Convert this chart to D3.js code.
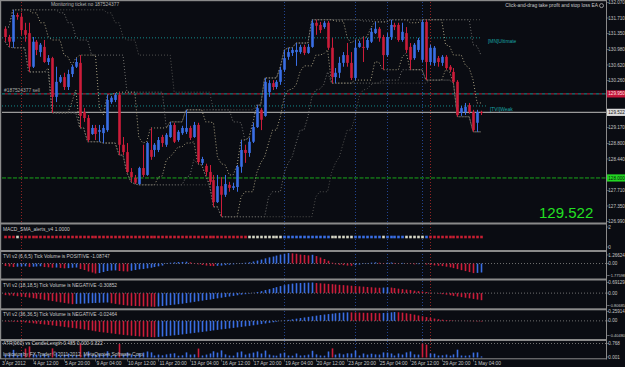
<!DOCTYPE html>
<html>
<head>
<meta charset="utf-8">
<script src="https://cdnjs.cloudflare.com/ajax/libs/d3/7.8.5/d3.min.js"></script>
<style>
  body { margin: 0; background: #0a0c12; }
  svg { display: block; }
  text { font-family: "Liberation Sans", Arial, sans-serif; }
</style>
</head>
<body>
<div id="wrapper"></div>
<script>
// H4 candles, 3 Apr - 1 May 2012
const opens = [
  131.46,131.27,131.16,131.78,131.74,131.43,131.36,130.58,131.16,130.92,
  131.04,130.69,130.78,129.88,130.23,130.34,130.11,130.41,130.58,130.67,
  129.53,129.39,129.02,129.16,129.07,129.04,129.11,129.76,129.81,129.93,
  128.77,128.60,128.14,128.00,127.86,128.23,128.07,128.65,128.65,128.65,
  128.95,128.77,128.95,129.23,128.88,129.04,129.07,129.16,128.95,129.23,
  128.35,128.28,128.14,127.95,127.44,127.81,127.61,127.84,127.77,127.79,
  128.26,128.65,128.58,128.84,129.18,129.58,129.44,129.99,130.20,130.11,
  130.23,130.51,130.81,130.90,130.92,130.92,131.04,130.90,131.04,131.60,
  131.55,131.50,131.60,131.02,130.34,130.44,130.67,130.85,130.67,130.32,
  131.04,131.04,131.02,131.16,131.36,131.46,131.27,130.85,131.27,131.55,
  131.55,131.20,131.36,131.04,130.78,130.97,130.74,131.62,130.69,130.67,
  130.78,130.67,130.81,130.58,130.46,130.23,129.51,129.53,129.69,129.53,
  129.28,129.53
]
const highs = [
  131.50,131.32,131.90,131.83,131.83,131.60,131.60,131.27,131.20,131.13,
  131.20,130.85,130.81,130.58,130.39,130.44,130.51,130.62,130.78,130.85,
  129.62,129.46,129.23,129.23,129.23,129.23,129.93,129.90,129.97,129.99,
  128.95,128.81,128.23,128.07,128.26,128.77,128.84,129.16,128.81,128.95,
  129.00,129.04,129.30,129.28,129.11,129.21,129.58,129.21,129.30,129.28,
  128.49,128.33,128.30,128.07,128.07,128.02,128.07,127.91,127.89,128.30,
  128.88,128.77,128.93,129.28,129.69,129.62,130.32,130.27,130.27,130.27,
  130.58,130.97,131.02,131.02,131.13,131.09,131.09,131.11,131.67,131.67,
  131.62,131.64,131.64,131.25,130.55,130.81,130.92,131.13,130.92,131.20,
  131.18,131.27,131.25,131.48,131.62,131.50,131.32,131.36,131.67,131.60,
  131.60,131.60,131.50,131.13,131.13,131.25,131.67,131.67,131.09,131.06,
  130.83,130.85,130.85,130.62,130.55,130.27,129.67,129.74,129.74,129.58,
  129.58,129.56
]
const lows = [
  131.16,131.04,131.02,131.67,131.32,131.16,130.46,130.55,130.85,130.81,
  130.67,130.62,129.51,129.76,130.20,130.04,130.04,130.34,130.55,129.16,
  129.30,128.84,129.00,128.88,128.84,128.81,129.07,129.72,129.76,128.53,
  128.53,128.12,127.91,127.86,127.84,128.02,128.05,128.42,128.49,128.60,
  128.72,128.72,128.93,128.81,128.84,129.00,129.02,128.88,128.93,128.33,
  128.30,128.05,127.84,127.33,127.42,127.10,127.56,127.68,127.72,127.68,
  128.12,128.35,128.49,128.81,129.16,129.11,129.42,129.88,130.04,130.06,
  130.16,130.46,130.74,130.83,130.60,130.88,130.85,130.88,131.02,131.32,
  131.36,131.46,130.97,130.20,130.20,130.32,130.58,130.58,130.27,130.27,
  131.02,130.69,130.97,131.13,131.34,131.16,130.51,130.81,131.20,131.43,
  131.16,131.16,130.90,130.51,130.74,130.92,130.69,130.27,130.62,130.60,
  130.58,130.60,130.51,130.46,130.20,129.42,129.44,129.46,129.49,129.07,
  129.07,129.46
]
const closes = [
  131.27,131.16,131.78,131.74,131.43,131.32,130.58,131.16,130.97,131.09,
  130.69,130.78,129.88,130.23,130.34,130.11,130.41,130.58,130.69,129.44,
  129.39,128.88,129.16,129.02,129.11,129.16,129.81,129.86,129.93,128.77,
  128.60,128.14,128.02,127.89,128.23,128.07,128.81,128.49,128.77,128.88,
  128.81,129.00,129.23,128.84,129.07,129.16,129.16,128.93,129.23,128.37,
  128.44,128.14,127.91,127.44,127.81,127.61,127.86,127.77,127.81,128.26,
  128.65,128.58,128.84,129.18,129.62,129.35,130.23,130.20,130.11,130.23,
  130.51,130.78,130.92,130.97,130.97,131.04,130.90,131.04,131.60,131.53,
  131.43,131.60,131.02,130.34,130.44,130.67,130.85,130.67,130.32,131.02,
  131.13,131.02,131.20,131.39,131.46,131.25,130.85,131.27,131.55,131.50,
  131.20,131.39,130.97,130.74,131.09,131.20,131.62,130.69,131.02,131.02,
  130.69,130.81,130.55,130.51,130.23,129.46,129.62,129.65,129.53,129.11,
  129.53,129.52
]

// MACD_SMA_alerts state per bar: -1 sell, 0 flat, 1 buy
const macdState = [
  -1,-1,-1,0,-1,-1,-1,-1,-1,-1,-1,-1,-1,-1,-1,-1,-1,-1,-1,-1,
  -1,-1,-1,-1,-1,-1,-1,-1,-1,-1,-1,-1,-1,-1,-1,-1,-1,-1,-1,-1,
  -1,-1,-1,-1,-1,-1,-1,-1,-1,-1,-1,-1,-1,-1,-1,-1,-1,-1,-1,-1,
  -1,-1,0,0,0,0,0,0,0,0,0,1,1,1,1,1,1,1,1,1,
  1,1,1,0,0,0,0,0,0,1,1,1,1,1,1,1,0,1,1,1,
  1,1,0,0,0,0,0,1,-1,-1,-1,-1,-1,-1,-1,-1,-1,-1,-1,-1,
  -1,-1
]

// TVI v2 (6,6,5)
const tvi1 = [
  -0.37,-0.44,-0.52,-0.47,-0.44,-0.41,-0.50,-0.47,-0.44,-0.41,
  -0.52,-0.56,-0.62,-0.59,-0.65,-0.71,-0.68,-0.62,-0.59,-0.81,
  -0.96,-1.18,-1.33,-1.48,-1.41,-1.26,-1.11,-1.04,-1.01,-1.11,
  -1.15,-1.18,-1.07,-0.96,-0.86,-0.81,-0.71,-0.62,-0.52,-0.41,
  -0.30,-0.07,0.12,0.18,0.22,0.24,0.27,0.18,0.07,-0.12,
  -0.22,-0.30,-0.36,-0.38,-0.34,-0.30,-0.24,-0.18,-0.12,-0.03,
  0.06,0.12,0.18,0.30,0.44,0.59,0.77,0.92,1.04,1.18,
  1.33,1.45,1.55,1.51,1.45,1.33,1.27,1.21,1.30,1.11,
  0.89,0.67,0.41,0.12,-0.12,-0.18,-0.24,-0.30,-0.33,-0.24,
  -0.15,-0.06,0.06,0.13,0.18,0.12,0.06,0.12,0.15,0.09,
  0.04,0.09,0.03,-0.06,-0.12,-0.09,-0.04,-0.15,-0.21,-0.27,
  -0.33,-0.38,-0.47,-0.56,-0.68,-0.83,-0.98,-1.12,-1.27,-1.42,
  -1.39,-1.33
]
// TVI v2 (18,18,5)
const tvi2 = [
  -0.13,-0.15,-0.17,-0.20,-0.23,-0.26,-0.29,-0.33,-0.36,-0.40,
  -0.44,-0.48,-0.52,-0.56,-0.60,-0.64,-0.68,-0.72,-0.70,-0.69,
  -0.68,-0.66,-0.65,-0.64,-0.63,-0.62,-0.61,-0.66,-0.70,-0.74,
  -0.78,-0.81,-0.83,-0.84,-0.85,-0.86,-0.87,-0.88,-0.89,-0.87,
  -0.84,-0.81,-0.78,-0.75,-0.72,-0.69,-0.65,-0.61,-0.57,-0.53,
  -0.49,-0.45,-0.42,-0.38,-0.34,-0.30,-0.26,-0.22,-0.18,-0.14,
  -0.10,-0.07,-0.03,0.02,0.07,0.13,0.20,0.26,0.33,0.39,
  0.46,0.52,0.58,0.62,0.65,0.66,0.67,0.68,0.69,0.66,
  0.64,0.62,0.60,0.58,0.56,0.54,0.52,0.50,0.48,0.46,
  0.44,0.42,0.40,0.38,0.36,0.35,0.36,0.38,0.36,0.33,
  0.29,0.26,0.23,0.20,0.16,0.13,0.10,0.07,0.03,0.00,
  -0.03,-0.07,-0.10,-0.14,-0.18,-0.22,-0.26,-0.30,-0.34,-0.38,
  -0.42,-0.46
]
// TVI v2 (36,36,5)
const tvi3 = [
  -0.014,-0.019,-0.022,-0.028,-0.036,-0.044,-0.055,-0.066,-0.078,-0.089,
  -0.100,-0.111,-0.125,-0.139,-0.152,-0.166,-0.180,-0.194,-0.208,-0.222,
  -0.238,-0.255,-0.271,-0.288,-0.305,-0.319,-0.332,-0.346,-0.360,-0.374,
  -0.388,-0.399,-0.410,-0.421,-0.429,-0.438,-0.443,-0.449,-0.452,-0.443,
  -0.432,-0.421,-0.410,-0.399,-0.388,-0.374,-0.360,-0.346,-0.332,-0.319,
  -0.305,-0.291,-0.277,-0.263,-0.249,-0.235,-0.222,-0.208,-0.194,-0.180,
  -0.166,-0.152,-0.139,-0.122,-0.105,-0.089,-0.072,-0.055,-0.039,-0.022,
  -0.006,0.011,0.028,0.044,0.061,0.078,0.094,0.111,0.127,0.144,
  0.161,0.175,0.188,0.199,0.211,0.222,0.230,0.235,0.233,0.230,
  0.227,0.224,0.222,0.219,0.216,0.213,0.219,0.227,0.235,0.244,
  0.238,0.227,0.211,0.194,0.172,0.150,0.127,0.105,0.083,0.064,
  0.047,0.033,0.022,0.014,0.008,0.003,-0.003,-0.006,-0.008,-0.011,
  -0.014,-0.017
]
// ATR(960) vs CandleLength
const atrValues = [
  0.17,0.22,0.42,0.11,0.23,0.49,0.61,0.17,0.16,0.12,
  0.21,0.11,0.50,0.27,0.10,0.16,0.22,0.12,0.11,0.76,
  0.17,0.33,0.11,0.16,0.22,0.17,0.34,0.10,0.12,0.74,
  0.16,0.28,0.17,0.11,0.22,0.27,0.33,0.28,0.11,0.16,
  0.12,0.17,0.21,0.23,0.10,0.12,0.28,0.16,0.17,0.49,
  0.11,0.16,0.22,0.34,0.27,0.39,0.17,0.11,0.10,0.28,
  0.33,0.16,0.22,0.27,0.33,0.22,0.38,0.16,0.11,0.10,
  0.22,0.27,0.11,0.10,0.22,0.11,0.12,0.16,0.37,0.17,
  0.11,0.10,0.33,0.50,0.16,0.22,0.17,0.23,0.22,0.38,
  0.11,0.22,0.16,0.21,0.17,0.16,0.28,0.27,0.22,0.11,
  0.22,0.16,0.28,0.33,0.17,0.16,0.76,0.71,0.22,0.21,
  0.11,0.12,0.16,0.10,0.17,0.43,0.11,0.10,0.12,0.27,
  0.28,0.06
]

const priceTicks = [132.07, 131.71, 131.35, 130.98, 130.62, 130.26, 129.17, 128.80, 128.44, 127.71, 127.35, 126.99]
const timeLabels = ["3 Apr 2012", "4 Apr 12:00", "5 Apr 20:00", "9 Apr 04:00", "10 Apr 12:00", "11 Apr 20:00",
  "13 Apr 04:00", "16 Apr 12:00", "17 Apr 20:00", "19 Apr 04:00", "20 Apr 12:00", "23 Apr 20:00",
  "25 Apr 04:00", "26 Apr 12:00", "29 Apr 20:00", "1 May 04:00"]
const timeLabelBars = [0, 7, 15, 23, 31, 39, 47, 55, 63, 71, 79, 87, 95, 103, 111, 119]
const blueMarkerBars = [71, 89, 97, 106]
const redMarkerBars = [4, 108]

const ultimateLevel = 131.25
const weakLevel = 129.67
const orderPrice = 129.95
const bidPrice = 129.522
const targetPrice = 128.00

function drawChart() {
    const width = 625
    const height = 367
    const plotRight = 606
    const bg = "#0a0c12"
    const upColor = "#3a6ee4"
    const downColor = "#cc1c3a"
    const labelColor = "#c4c4c4"
    const fontSize = 4.9
    const axisFont = 4.6

    const svg = d3.select("#wrapper")
        .append("svg")
        .attr("width", width)
        .attr("height", height)

    svg.append("rect").attr("width", width).attr("height", height).attr("fill", bg)

    const n = opens.length
    const bars = d3.range(n)
    const xScale = d3.scaleLinear().domain([0, n - 1]).range([5, 481])
    const yPrice = d3.scaleLinear().domain([126.99, 132.07]).range([221.5, 2.5])
    const yMacd = d3.scaleLinear().domain([0, 2]).range([247, 227])
    const yTvi1 = d3.scaleLinear().domain([-1.77598, 1.26624]).range([275.5, 255])
    const yTvi2 = d3.scaleLinear().domain([-0.80685, 0.69129]).range([305.5, 282.5])
    const yTvi3 = d3.scaleLinear().domain([-0.4048, 0.25914]).range([335.5, 311.5])
    const yAtr = d3.scaleLinear().domain([0, 0.768]).range([357.5, 343.5])

    // clip regions for each pane
    const defs = svg.append("defs")
    const addClip = (id, y0, y1) => defs.append("clipPath").attr("id", id)
        .append("rect").attr("x", 1.5).attr("y", y0)
        .attr("width", plotRight - 1.5).attr("height", y1 - y0)
    addClip("c-main", 1.5, 222.5)
    addClip("c-macd", 224.5, 250)
    addClip("c-t1", 252, 278.5)
    addClip("c-t2", 280.5, 308.3)
    addClip("c-t3", 310.3, 339)
    addClip("c-atr", 341, 358.5)

    // vertical marker lines through all panes
    const markers = svg.append("g")
    markers.selectAll(".vb").data(blueMarkerBars).join("line")
        .attr("x1", d => Math.round(xScale(d)) + 0.5).attr("x2", d => Math.round(xScale(d)) + 0.5)
        .attr("y1", 2).attr("y2", 358)
        .attr("stroke", "#22448f").attr("stroke-dasharray", "1,2")
    markers.selectAll(".vr").data(redMarkerBars).join("line")
        .attr("x1", d => Math.round(xScale(d)) + 0.5).attr("x2", d => Math.round(xScale(d)) + 0.5)
        .attr("y1", 2).attr("y2", 358)
        .attr("stroke", "#8f2424").attr("stroke-dasharray", "1,2")

    // ---------- main pane ----------
    const main = svg.append("g").attr("clip-path", "url(#c-main)")

    const hLine = (price, x1, x2, color, dash, w) => main.append("line")
        .attr("x1", x1).attr("x2", x2)
        .attr("y1", yPrice(price)).attr("y2", yPrice(price))
        .attr("stroke", color).attr("stroke-width", w || 1)
        .attr("stroke-dasharray", dash || null)

    hLine(ultimateLevel, 2, 482, "#138c8c", "1,2")
    hLine(weakLevel, 2, 488, "#138c8c", "1,2")
    hLine(orderPrice, 2, plotRight, "#1a9a9a", "3,3")
    hLine(orderPrice, 2, plotRight, "#c4203a", "3,3").attr("stroke-dashoffset", 3)
    hLine(targetPrice, 2, plotRight, "#1aa81a", "4,1.5")
    hLine(bidPrice, 2, plotRight, "#9a9a9a", null, 1.2)

    // price channels (highest high / lowest low over N bars)
    const channelSpecs = [
        { period: 5, color: "#a89f80" },
        { period: 12, color: "#6e6e6c" },
        { period: 24, color: "#525250" },
    ]
    const channelLine = d3.line().x((d, i) => xScale(i)).y(d => yPrice(d))
    channelSpecs.forEach(spec => {
        const upper = bars.map(i => d3.max(highs.slice(Math.max(0, i - spec.period + 1), i + 1)))
        const lower = bars.map(i => d3.min(lows.slice(Math.max(0, i - spec.period + 1), i + 1)))
        ;[upper, lower].forEach(series => {
            main.append("path")
                .attr("d", channelLine(series))
                .attr("fill", "none")
                .attr("stroke", spec.color)
                .attr("stroke-width", 1)
                .attr("stroke-dasharray", "1,2")
        })
    })

    // candles
    const candleColor = i => closes[i] >= opens[i] ? upColor : downColor
    main.selectAll(".wick").data(bars).join("line")
        .attr("x1", i => Math.round(xScale(i)) + 0.5)
        .attr("x2", i => Math.round(xScale(i)) + 0.5)
        .attr("y1", i => yPrice(highs[i]))
        .attr("y2", i => yPrice(lows[i]))
        .attr("stroke", candleColor)
    main.selectAll(".body").data(bars).join("rect")
        .attr("x", i => Math.round(xScale(i)) - 0.8)
        .attr("width", 2.6)
        .attr("y", i => yPrice(Math.max(opens[i], closes[i])))
        .attr("height", i => Math.max(1, Math.abs(yPrice(opens[i]) - yPrice(closes[i]))))
        .attr("fill", candleColor)

    // texts on main pane
    svg.append("text").attr("x", 85).attr("y", 6).attr("text-anchor", "middle")
        .attr("font-size", fontSize).attr("fill", "#b4b4b4")
        .text("Monitoring ticket no 187524377")
    svg.append("text").attr("x", 598).attr("y", 7.2).attr("text-anchor", "end")
        .attr("font-size", fontSize).attr("fill", "#c8c8c8")
        .text("Click-and-drag take profit and stop loss EA")
    svg.append("circle").attr("cx", 601.5).attr("cy", 5.6).attr("r", 2)
        .attr("fill", "none").attr("stroke", "#c8c8c8").attr("stroke-width", 0.7)
    svg.append("text").attr("x", 4).attr("y", yPrice(orderPrice) - 1.5)
        .attr("font-size", fontSize).attr("fill", "#a8a8a8").text("#187524377 sell")
    svg.append("text").attr("x", 488).attr("y", yPrice(ultimateLevel) + 5.5)
        .attr("font-size", fontSize).attr("fill", "#19a6a6").text("[MN]Ultimate")
    svg.append("text").attr("x", 490).attr("y", yPrice(weakLevel) + 5)
        .attr("font-size", fontSize).attr("fill", "#19a6a6").text("[TVI]Weak")
    svg.append("text").attr("x", 539).attr("y", 217.5)
        .attr("font-size", 15).attr("fill", "#22e022").text(d3.format(".3f")(bidPrice))

    // ---------- MACD dots ----------
    const macdColors = { "-1": "#c81e32", "0": "#d6d6c6", "1": "#3a6ee4" }
    svg.append("g").attr("clip-path", "url(#c-macd)")
        .selectAll("rect").data(bars).join("rect")
        .attr("x", i => Math.round(xScale(i)) - 0.8)
        .attr("y", yMacd(1) - 1.3)
        .attr("width", 2.6).attr("height", 2.6)
        .attr("fill", i => macdColors[macdState[i]])

    // ---------- histogram panes ----------
    const histogram = (values, yScale, clipId) => {
        const g = svg.append("g").attr("clip-path", `url(#${clipId})`)
        g.append("line").attr("x1", 2).attr("x2", plotRight)
            .attr("y1", yScale(0)).attr("y2", yScale(0))
            .attr("stroke", "#707070").attr("stroke-dasharray", "1,2")
        g.selectAll("rect").data(bars).join("rect")
            .attr("x", i => Math.round(xScale(i)) - 0.3)
            .attr("width", 1.6)
            .attr("y", i => Math.min(yScale(0), yScale(values[i])))
            .attr("height", i => Math.abs(yScale(values[i]) - yScale(0)))
            .attr("fill", i => (i > 0 && values[i] > values[i - 1]) ? upColor : downColor)
    }
    histogram(tvi1, yTvi1, "c-t1")
    histogram(tvi2, yTvi2, "c-t2")
    histogram(tvi3, yTvi3, "c-t3")

    const atrG = svg.append("g").attr("clip-path", "url(#c-atr)")
    atrG.append("line").attr("x1", 2).attr("x2", plotRight)
        .attr("y1", yAtr(0.768)).attr("y2", yAtr(0.768))
        .attr("stroke", "#707070").attr("stroke-dasharray", "1,2")
    atrG.selectAll("rect").data(bars).join("rect")
        .attr("x", i => Math.round(xScale(i)) - 0.3)
        .attr("width", 1.6)
        .attr("y", i => yAtr(atrValues[i]))
        .attr("height", i => yAtr(0) - yAtr(atrValues[i]))
        .attr("fill", i => atrValues[i] > 0.45 ? downColor : upColor)

    // pane titles
    const titles = [
        ["MACD_SMA_alerts_v4 1.0000", 230.6],
        ["TVI v2 (6,6,5) Tick Volume is POSITIVE -1.08747", 257.6],
        ["TVI v2 (18,18,5) Tick Volume is NEGATIVE -0.30852", 286.6],
        ["TVI v2 (36,36,5) Tick Volume is NEGATIVE -0.02464", 315.6],
        ["ATR(960) vs CandleLength 0.485 0.000 0.322", 344.6],
        ["Indicator by FX Trader \u00a9 2011-2012, MetaQuotes Software Corp.", 355.6],
    ]
    svg.selectAll(".title").data(titles).join("text")
        .attr("x", 3).attr("y", d => d[1])
        .attr("font-size", fontSize).attr("fill", "#c8c8c8")
        .text(d => d[0])

    // ---------- frame ----------
    const frame = svg.append("g").attr("fill", "#8a8a8a")
    frame.append("rect").attr("x", 0).attr("y", 0).attr("width", plotRight).attr("height", 1.2)
    frame.append("rect").attr("x", 0).attr("y", 0).attr("width", 1.2).attr("height", 359)
    ;[222.5, 250, 278.5, 308.3, 339].forEach(y => {
        frame.append("rect").attr("x", 0).attr("y", y).attr("width", plotRight).attr("height", 2)
    })
    frame.append("rect").attr("x", 0).attr("y", 358.3).attr("width", plotRight + 1).attr("height", 1)
    frame.append("rect").attr("x", plotRight).attr("y", 0).attr("width", 1).attr("height", 359.3)

    // ---------- right axis ----------
    const axisG = svg.append("g").attr("fill", labelColor)
    const axisLabel = (y, txt) => {
        axisG.append("line").attr("x1", plotRight + 1).attr("x2", plotRight + 3)
            .attr("y1", y).attr("y2", y).attr("stroke", "#8a8a8a").attr("stroke-width", 0.6)
        axisG.append("text").attr("x", 608.3).attr("y", y + 1.6)
            .attr("font-size", txt.length > 7 ? 4.0 : axisFont)
            .text(txt)
    }
    priceTicks.forEach(p => axisLabel(yPrice(p), d3.format(".3f")(p)))
    axisLabel(yMacd(2), "2")
    axisLabel(yMacd(0), "0")
    ;[[yTvi1, [1.26624, 0, -1.77598]], [yTvi2, [0.69129, 0, -0.80685]], [yTvi3, [0.25914, 0, -0.4048]]]
        .forEach(([scale, vals]) => vals.forEach(v => axisLabel(scale(v), v === 0 ? "0.00" : d3.format(".5f")(v))))
    axisLabel(yAtr(0.768), "0.768")
    axisLabel(yAtr(0.03), "0.001")

    // coloured price tags
    const tag = (price, fill, textColor) => {
        const y = yPrice(price)
        svg.append("rect").attr("x", plotRight + 1).attr("y", y - 3.6)
            .attr("width", width - plotRight - 1).attr("height", 7.2).attr("fill", fill)
        svg.append("text").attr("x", 608.3).attr("y", y + 1.6)
            .attr("font-size", axisFont).attr("fill", textColor).text(d3.format(".3f")(price))
    }
    tag(orderPrice, "#c4163a", "#ffe0e0")
    tag(bidPrice, "#dcdcdc", "#202020")
    tag(targetPrice, "#22d622", "#0a200a")

    // ---------- time axis ----------
    const timeG = svg.append("g")
    timeG.selectAll("line").data(timeLabelBars).join("line")
        .attr("x1", i => Math.round(xScale(i)) + 0.5).attr("x2", i => Math.round(xScale(i)) + 0.5)
        .attr("y1", 359).attr("y2", 361.5)
        .attr("stroke", "#8a8a8a").attr("stroke-width", 0.6)
    timeG.selectAll("text").data(timeLabelBars).join("text")
        .attr("x", (i, k) => k === 0 ? 2 : xScale(i) + 1)
        .attr("y", 365)
        .attr("font-size", fontSize).attr("fill", labelColor)
        .text((i, k) => timeLabels[k])
}

drawChart()
</script>
</body>
</html>
